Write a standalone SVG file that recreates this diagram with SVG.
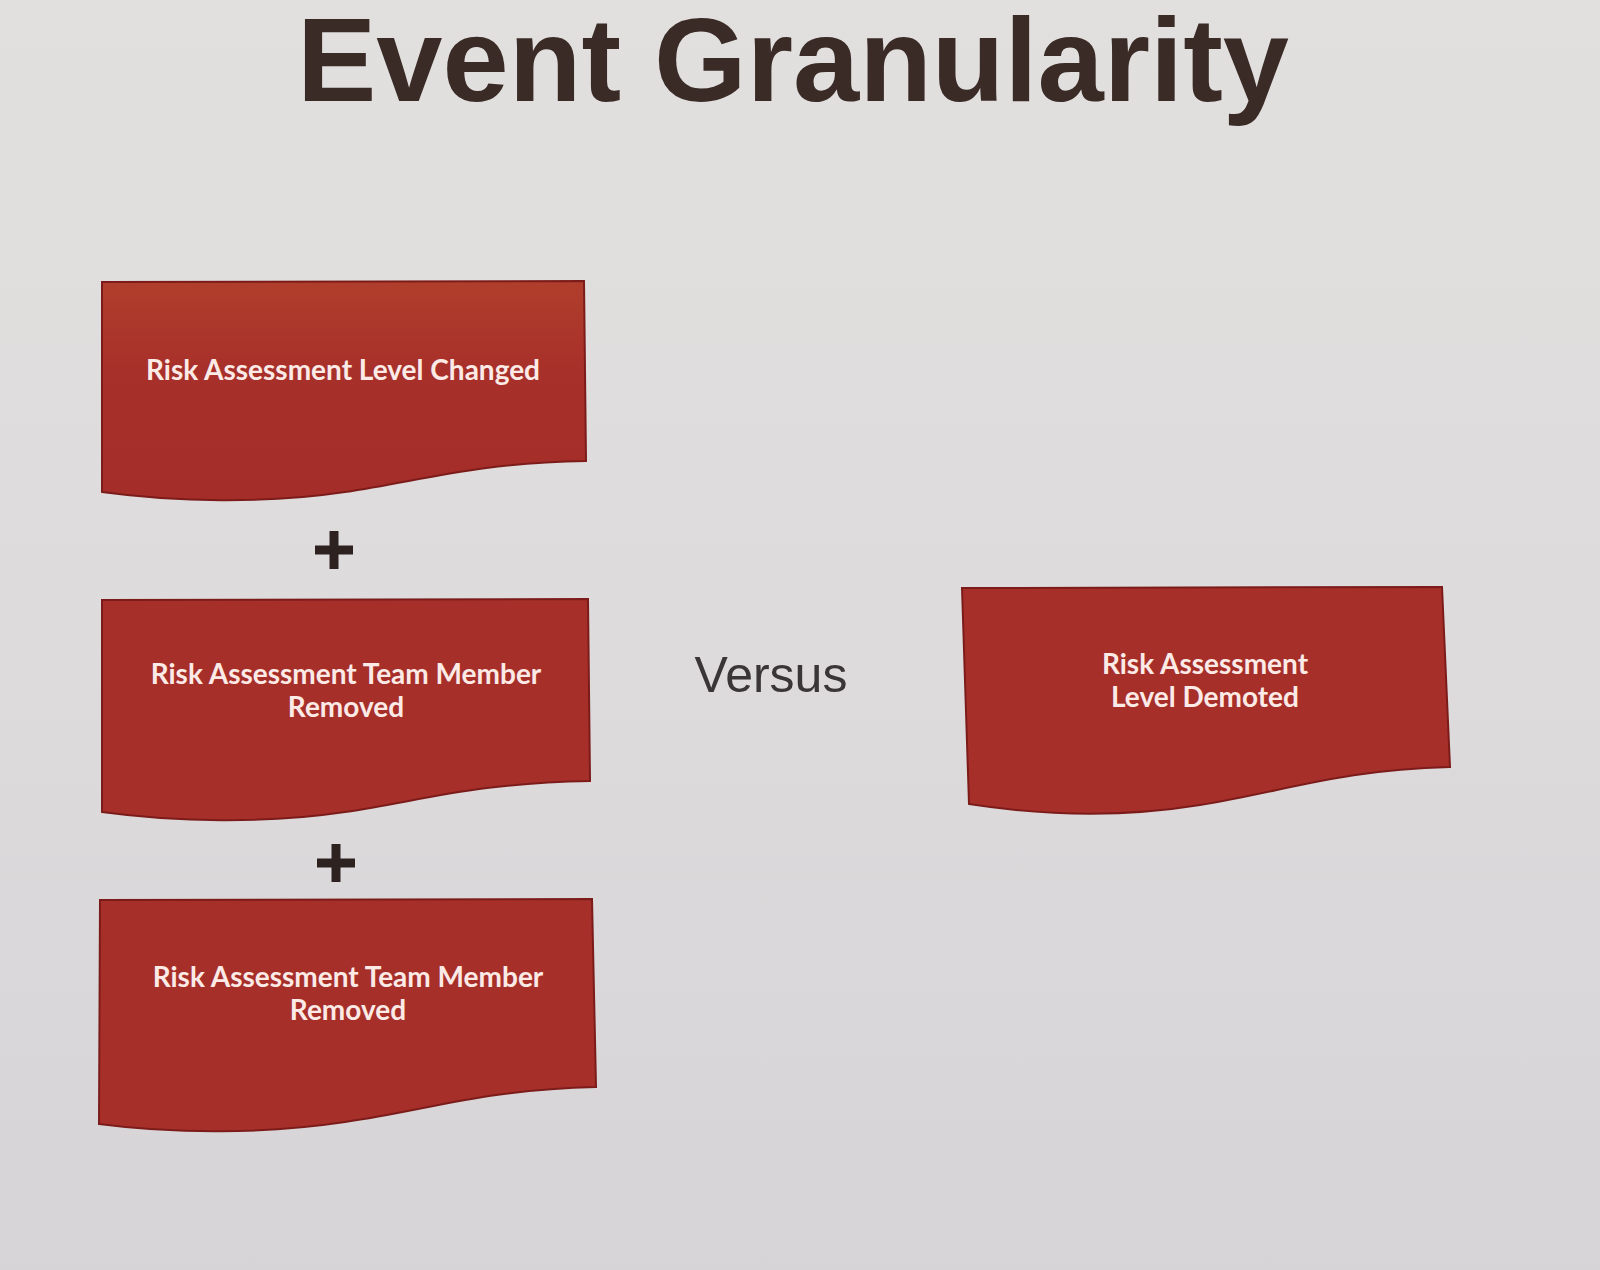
<svg xmlns="http://www.w3.org/2000/svg" width="1600" height="1270" viewBox="0 0 1600 1270">
<defs>
<linearGradient id="bg" x1="0" y1="0" x2="0" y2="1">
<stop offset="0" stop-color="#e1e0de"/>
<stop offset="0.5" stop-color="#dddbdc"/>
<stop offset="1" stop-color="#d6d4d6"/>
</linearGradient>
<linearGradient id="fill1" x1="0" y1="0" x2="0" y2="1">
<stop offset="0" stop-color="#b03e2c"/>
<stop offset="0.4" stop-color="#a8302a"/>
<stop offset="1" stop-color="#a42d29"/>
</linearGradient>
<style>
.box{fill:#a72f2a;stroke:#7c1c1a;stroke-width:2}
.lbl{font-family:Lato,"Liberation Sans",sans-serif;font-weight:bold;font-size:28px;fill:#fbeae6;text-anchor:middle}
.plus{stroke:#2e2220;stroke-width:9;stroke-linecap:butt}
</style>
</defs>
<rect x="0" y="0" width="1600" height="1270" fill="url(#bg)"/>
<text x="793" y="101" font-family="'Liberation Sans',Arial,sans-serif" font-weight="bold" font-size="119" fill="#3b2b27" text-anchor="middle">Event Granularity</text>

<g id="node-level-changed">
<path class="box" style="fill:url(#fill1)" d="M102,282 L584,281 L586,461 C475,463 425,480 345,492 C265,504 175,502 102,492 Z"/>
<text class="lbl" x="343" y="380">Risk Assessment Level Changed</text>
</g>

<g id="plus-1">
<line class="plus" x1="315" y1="550" x2="353" y2="550"/>
<line class="plus" x1="334" y1="531" x2="334" y2="569"/>
</g>

<g id="node-team-removed-1">
<path class="box" d="M102,600 L588,599 L590,781 C475,783 425,800 345,812 C265,824 175,822 102,812 Z"/>
<text class="lbl" x="346" y="684">Risk Assessment Team Member</text>
<text class="lbl" x="346" y="717">Removed</text>
</g>

<g id="plus-2">
<line class="plus" x1="317" y1="863" x2="355" y2="863"/>
<line class="plus" x1="336" y1="844" x2="336" y2="882"/>
</g>

<g id="node-team-removed-2">
<path class="box" d="M100,900 L592,899 L596,1087 C480,1090 430,1110 345,1122 C265,1134 175,1134 99,1124 Z"/>
<text class="lbl" x="348" y="987">Risk Assessment Team Member</text>
<text class="lbl" x="348" y="1020">Removed</text>
</g>

<text x="771" y="692" font-family="'Liberation Sans',Arial,sans-serif" font-size="50" fill="#3a3536" text-anchor="middle">Versus</text>

<g id="node-level-demoted">
<path class="box" d="M962,588 L1442,587 L1450,767 C1340,770 1290,790 1200,805 C1120,818 1040,815 969,804 Z"/>
<text class="lbl" x="1205" y="674">Risk Assessment</text>
<text class="lbl" x="1205" y="707">Level Demoted</text>
</g>

<g id="connectors"></g>
</svg>
